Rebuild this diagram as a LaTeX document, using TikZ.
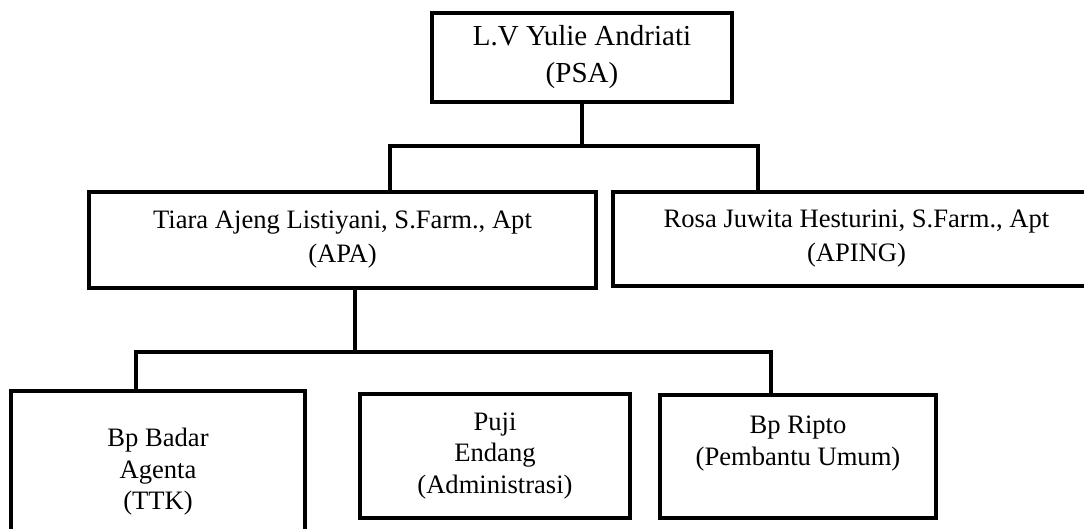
\documentclass[tikz,border=0pt]{standalone}
\usepackage{fontspec}
\setmainfont{Liberation Serif}
\usetikzlibrary{positioning}
\tikzset{
  kotak/.style={draw=black, line width=3.5pt, fill=white, align=center, inner sep=0pt,
                outer sep=0pt, font=\fontsize{26.6}{34}\selectfont},
  kotakbawah/.style={kotak, font=\fontsize{26.6}{31.5}\selectfont},
  kotakpsa/.style={kotak, font=\fontsize{29}{37}\selectfont},
  garis/.style={draw=black, line width=3.5pt},
}

\begin{document}
\begin{tikzpicture}[x=1pt, y=-1pt]

  \useasboundingbox (0,0) rectangle (1084,528);
  \clip (0,0) rectangle (1084,528);

  % --- Pimpinan ----------------------------------------------------------------
  \node[kotakpsa, minimum width=300pt, minimum height=89pt] (psa) at (582, 57.5) {L.V Yulie Andriati\\(PSA)};

  % --- Apoteker ----------------------------------------------------------------
  \node[kotak, minimum width=507pt, minimum height=96pt] (apa) at (342.5, 240) {Tiara Ajeng Listiyani, S.Farm., Apt\\(APA)};
  \node[kotak, minimum width=487pt, minimum height=94pt] (aping) at (856.5, 239) {Rosa Juwita Hesturini, S.Farm., Apt\\(APING)};

  % --- Staf ----------------------------------------------------------------------
  \node[kotakbawah, minimum width=294pt, minimum height=162pt] (ttk) at (158, 472) {Bp Badar\\Agenta\\(TTK)};
  \node[kotakbawah, minimum width=270pt, minimum height=124pt] (adm) at (495, 456) {Puji\\Endang\\(Administrasi)};
  \node[kotakbawah, minimum width=276pt, minimum height=123pt] (ripto) at (798, 456.5) {Bp Ripto\\(Pembantu Umum)\\\mbox{}};

  % --- Garis atas: PSA -> APA / APING ------------------------------------------
  \coordinate (busatas-kiri)  at (390, 146);
  \coordinate (busatas-kanan) at (758, 146);
  \draw[garis] (psa.south) -- (psa.south |- busatas-kiri);
  \draw[garis] (apa.north -| busatas-kiri) |- (busatas-kanan) -- (aping.north -| busatas-kanan);

  % --- Garis bawah: APA -> staf ----------------------------------------------
  \coordinate (cabang-apa)     at (355, 352);
  \coordinate (busbawah-kiri)  at (136, 352);
  \coordinate (busbawah-kanan) at (771, 352);
  \draw[garis] (apa.south -| cabang-apa) -- (cabang-apa);
  \draw[garis] (ttk.north -| busbawah-kiri) |- (busbawah-kanan) -- (ripto.north -| busbawah-kanan);

\end{tikzpicture}
\end{document}
